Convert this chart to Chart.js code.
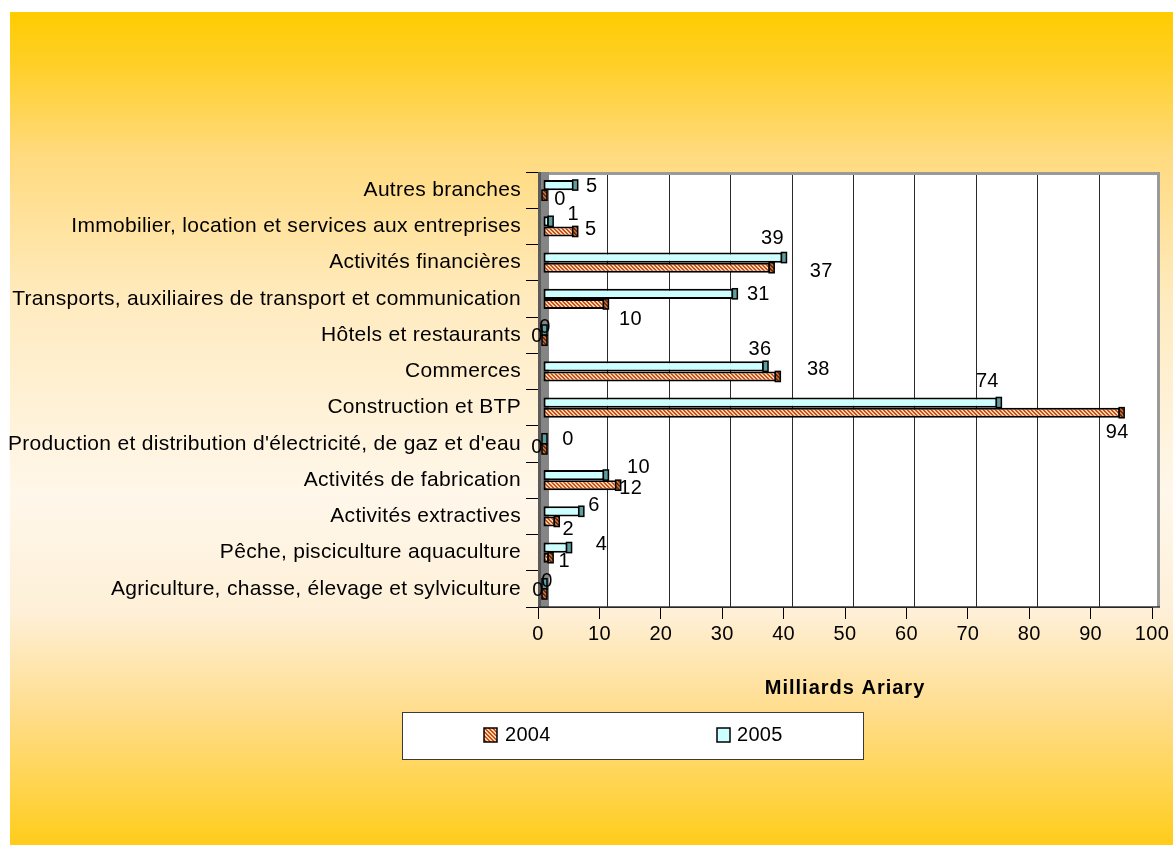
<!DOCTYPE html>
<html>
<head>
<meta charset="utf-8">
<script src="https://cdn.jsdelivr.net/npm/chart.js@4/dist/chart.umd.min.js"></script>
<style>
  html, body { margin: 0; padding: 0; background: #fff; }
  canvas { display: block; }
</style>
</head>
<body>
<canvas id="chart" width="1173" height="845"></canvas>
<script>
// Branches, listed from the top of the chart to the bottom
const categories = [
  'Autres branches',
  'Immobilier, location et services aux entreprises',
  'Activités financières',
  'Transports, auxiliaires de transport et communication',
  'Hôtels et restaurants',
  'Commerces',
  'Construction et BTP',
  "Production et distribution d'électricité, de gaz et d'eau",
  'Activités de fabrication',
  'Activités extractives',
  'Pêche, pisciculture aquaculture',
  'Agriculture, chasse, élevage et sylviculture'
];

// Milliards Ariary
const values2004 = [0, 5, 37, 10, 0, 38, 94, 0, 12, 2, 1, 0];
const values2005 = [5, 1, 39, 31, 0, 36, 74, 0, 10, 6, 4, 0];

const seriesLabels = ['2004', '2005'];
const xTickValues = [0, 10, 20, 30, 40, 50, 60, 70, 80, 90, 100];
const xTitle = 'Milliards Ariary';

// Value label nudges in px: [dx from bar end, dy from bar middle]
const labelNudge2005 = [[18,1],[24,-7],[-10,-19],[25,1],[2,-3],[-4,-17],[-10,-21],[25,1],[34,-8],[14,-6],[34,-3],[4,-2]];
const labelNudge2004 = [[17,4],[17,-2],[51,4],[26,16],[-6,-4],[42,-7],[-3,20],[-6,-1],[14,3],[13,8],[15,4],[-5,-3]];

const FONT = '"Liberation Sans", Arial, sans-serif';
const WALL_DEPTH = 8;     // back wall offset
const WALL_SIDE = 11;     // width of the grey side wall
const BAR_SHIFT = 5;      // bars sit half way into the depth
const FACE_W = 5;         // visible end face of each bar

// Diagonal hatch used for 2004
function makeHatch(stripe, ground) {
  const c = document.createElement('canvas');
  c.width = 4; c.height = 4;
  const g = c.getContext('2d');
  g.fillStyle = ground; g.fillRect(0, 0, 4, 4);
  g.fillStyle = stripe;
  for (let y = 0; y < 4; y++) {
    for (let x = 0; x < 4; x++) {
      const d = ((x - y) % 4 + 4) % 4;
      if (d === 0 || d === 1) g.fillRect(x, y, 1, 1);
    }
  }
  return g.createPattern(c, 'repeat');
}
const hatch2004 = makeHatch('#C9501C', '#FFD2A6');
const hatch2004Dark = makeHatch('#6E2A0E', '#B8703E');

const background = {
  id: 'background',
  beforeDraw(chart) {
    const { ctx, width, height } = chart;
    ctx.save();
    ctx.fillStyle = '#fff';
    ctx.fillRect(0, 0, width, height);
    const g = ctx.createLinearGradient(0, 12, 0, height);
    g.addColorStop(0.00, '#FFCC00');
    g.addColorStop(0.06, '#FFCF25');
    g.addColorStop(0.17, '#FFDA7E');
    g.addColorStop(0.35, '#FFEBC0');
    g.addColorStop(0.58, '#FFF7EA');
    g.addColorStop(0.72, '#FEF0D8');
    g.addColorStop(0.84, '#FFDD8C');
    g.addColorStop(0.93, '#FFD44E');
    g.addColorStop(1.00, '#FFCC1A');
    ctx.fillStyle = g;
    ctx.fillRect(10, 12, width - 10, height - 12);
    ctx.restore();
    // slightly open tracking for all chart text
    ctx.letterSpacing = '0.3px';
  }
};

const walls = {
  id: 'walls',
  beforeDatasetsDraw(chart) {
    const { ctx, chartArea: a, scales: { x } } = chart;
    const x0 = x.getPixelForValue(xTickValues[0]);
    const x1 = x.getPixelForValue(xTickValues[xTickValues.length - 1]);
    ctx.save();
    // back wall
    ctx.fillStyle = '#fff';
    ctx.fillRect(x0 + WALL_DEPTH, a.top, x1 - x0, a.bottom - a.top);
    ctx.strokeStyle = '#2a2a2a';
    ctx.lineWidth = 1;
    xTickValues.slice(1, -1).forEach(v => {
      const px = Math.round(x.getPixelForValue(v) + WALL_DEPTH) + 0.5;
      ctx.beginPath(); ctx.moveTo(px, a.top); ctx.lineTo(px, a.bottom); ctx.stroke();
    });
    ctx.strokeStyle = '#9a9a9a';
    ctx.lineWidth = 3;
    ctx.beginPath();
    ctx.moveTo(x0 + WALL_DEPTH, a.top + 1.5);
    ctx.lineTo(x1 + WALL_DEPTH - 1.5, a.top + 1.5);
    ctx.lineTo(x1 + WALL_DEPTH - 1.5, a.bottom);
    ctx.stroke();
    // side wall
    ctx.fillStyle = '#858585';
    ctx.fillRect(x0, a.top, WALL_SIDE, a.bottom - a.top);
    ctx.fillStyle = '#5a5a5a';
    ctx.fillRect(x0, a.top, 3, a.bottom - a.top);
    // floor edge
    ctx.strokeStyle = '#333';
    ctx.lineWidth = 1.5;
    ctx.beginPath(); ctx.moveTo(x0, a.bottom); ctx.lineTo(x1 + WALL_DEPTH, a.bottom); ctx.stroke();
    ctx.restore();
    // bars are drawn half way into the depth
    ctx.save();
    ctx.translate(BAR_SHIFT, 0);
  },
  afterDatasetsDraw(chart) {
    const { ctx } = chart;
    const faces = ['#5E9E9E', hatch2004Dark];
    chart.data.datasets.forEach((ds, di) => {
      const meta = chart.getDatasetMeta(di);
      meta.data.forEach(bar => {
        const { x, y, height } = bar.getProps(['x', 'y', 'height'], true);
        ctx.fillStyle = faces[di];
        ctx.fillRect(x - 1, y - height / 2, FACE_W, height);
        ctx.strokeStyle = '#000';
        ctx.lineWidth = 1.5;
        ctx.strokeRect(x - 1, y - height / 2, FACE_W, height);
      });
    });
    ctx.restore();

    // value labels
    const nudges = [labelNudge2005, labelNudge2004];
    ctx.save();
    ctx.font = '20px ' + FONT;
    ctx.fillStyle = '#000';
    ctx.textAlign = 'center';
    ctx.textBaseline = 'middle';
    chart.data.datasets.forEach((ds, di) => {
      const meta = chart.getDatasetMeta(di);
      meta.data.forEach((bar, i) => {
        const { x, y } = bar.getProps(['x', 'y'], true);
        const [dx, dy] = nudges[di][i];
        ctx.fillText(String(ds.data[i]), x + BAR_SHIFT + dx, y + dy);
      });
    });
    ctx.restore();
  }
};

// Axis title with wide tracking, centred under the value axis
const axisTitle = {
  id: 'axisTitle',
  afterDraw(chart) {
    const { ctx, chartArea: a } = chart;
    ctx.save();
    ctx.letterSpacing = '1px';
    ctx.font = 'bold 20px ' + FONT;
    ctx.fillStyle = '#000';
    ctx.textAlign = 'center';
    ctx.textBaseline = 'middle';
    ctx.fillText(xTitle, (a.left + a.right) / 2, a.bottom + 81);
    ctx.restore();
  }
};

const boxedLegend = {
  id: 'boxedLegend',
  afterDraw(chart) {
    const { ctx } = chart;
    const box = { x: 402, y: 712, w: 462, h: 48 };
    ctx.save();
    ctx.fillStyle = '#fff';
    ctx.fillRect(box.x, box.y, box.w, box.h);
    ctx.strokeStyle = '#3a3a3a';
    ctx.lineWidth = 1;
    ctx.strokeRect(box.x + 0.5, box.y + 0.5, box.w - 1, box.h - 1);
    const items = [
      { text: seriesLabels[0], fill: hatch2004, sx: 484, tx: 505 },
      { text: seriesLabels[1], fill: '#CCFFFF', sx: 717, tx: 737 }
    ];
    ctx.font = '20px ' + FONT;
    ctx.textBaseline = 'middle';
    ctx.textAlign = 'left';
    items.forEach(it => {
      ctx.fillStyle = it.fill;
      ctx.fillRect(it.sx, 728, 13, 14);
      ctx.strokeStyle = '#000';
      ctx.lineWidth = 1.5;
      ctx.strokeRect(it.sx, 728, 13, 14);
      ctx.fillStyle = '#000';
      ctx.fillText(it.text, it.tx, 735);
    });
    ctx.restore();
  }
};

Chart.defaults.font.family = FONT;
Chart.defaults.font.size = 20;
Chart.defaults.color = '#000';

new Chart(document.getElementById('chart'), {
  type: 'bar',
  data: {
    labels: categories,
    datasets: [
      {
        label: seriesLabels[1],
        data: values2005,
        backgroundColor: '#CCFFFF',
        borderColor: '#000',
        borderWidth: 2,
        borderSkipped: false
      },
      {
        label: seriesLabels[0],
        data: values2004,
        backgroundColor: hatch2004,
        borderColor: '#000',
        borderWidth: 2,
        borderSkipped: false
      }
    ]
  },
  options: {
    indexAxis: 'y',
    responsive: false,
    animation: false,
    devicePixelRatio: 1,
    layout: { padding: { left: 0, right: 21, top: 172, bottom: 148 } },
    datasets: { bar: { categoryPercentage: 0.56, barPercentage: 1.0 } },
    plugins: {
      legend: { display: false },
      tooltip: { enabled: false }
    },
    scales: {
      x: {
        min: 0,
        max: 100,
        afterBuildTicks(scale) { scale.ticks = xTickValues.map(v => ({ value: v })); },
        afterFit(scale) { scale.height = 90; },
        ticks: { color: '#000', font: { size: 20 }, padding: 3, maxRotation: 0 },
        grid: { drawOnChartArea: false, drawTicks: true, tickLength: 12, color: '#000', lineWidth: 1 },
        border: { display: true, color: '#000', width: 1 },
        title: { display: false, text: xTitle }
      },
      y: {
        afterFit(scale) { scale.width = 538; },
        ticks: { color: '#000', font: { size: 21 }, padding: 5, autoSkip: false },
        grid: { drawOnChartArea: false, drawTicks: true, tickLength: 12, color: '#000', offset: true },
        border: { display: false }
      }
    }
  },
  plugins: [background, walls, axisTitle, boxedLegend]
});
</script>
</body>
</html>
